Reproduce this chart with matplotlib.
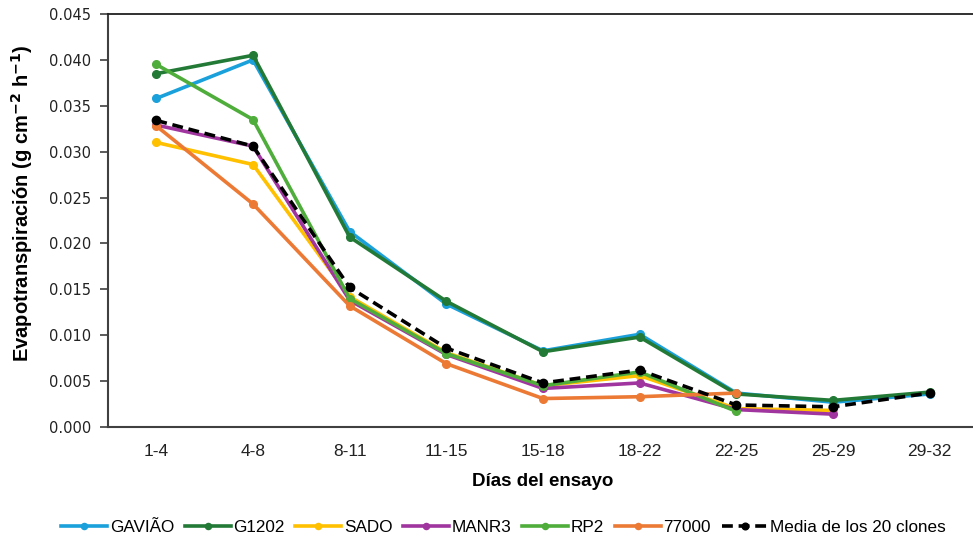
import numpy as np
import matplotlib
matplotlib.use("Agg")
import matplotlib.pyplot as plt

categories = ["1-4", "4-8", "8-11", "11-15", "15-18", "18-22", "22-25", "25-29", "29-32"]
nan = np.nan
gaviao = [0.0358, 0.0400, 0.0213, 0.0134, 0.0083, 0.0101, 0.0037, 0.0027, 0.0036]
g1202  = [0.0385, 0.0405, 0.0207, 0.0137, 0.0082, 0.0098, 0.0036, 0.0029, 0.0038]
sado   = [0.0310, 0.0286, 0.0142, 0.0081, 0.0045, 0.0056, 0.0020, 0.0018, nan]
manr3  = [0.0329, 0.0306, 0.0138, 0.0079, 0.0042, 0.0048, 0.0019, 0.0014, nan]
rp2    = [0.0395, 0.0335, 0.0140, 0.0080, 0.0045, 0.0060, 0.0017, nan, nan]
c77000 = [0.0328, 0.0243, 0.0132, 0.0069, 0.0031, 0.0033, 0.0037, nan, nan]
media  = [0.0334, 0.0306, 0.0152, 0.0086, 0.0048, 0.0062, 0.0024, 0.0022, 0.0037]
yticks = [0.000, 0.005, 0.010, 0.015, 0.020, 0.025, 0.030, 0.035, 0.040, 0.045]

LS = ["Liberation Sans", "DejaVu Sans"]

fig = plt.figure(figsize=(9.73, 5.39), dpi=100)
ax = fig.add_axes([108/973, 1-427/539, (978-108)/973, (427-14)/539])
x = np.arange(len(categories))

series = [
    ("GAVIÃO", gaviao, "#1AA0DB"),
    ("G1202", g1202, "#237A36"),
    ("SADO", sado, "#FFC000"),
    ("MANR3", manr3, "#A0359F"),
    ("RP2", rp2, "#4FAD3B"),
    ("77000", c77000, "#EC7A35"),
]
for name, vals, col in series:
    ax.plot(x, vals, color=col, lw=2.6, marker="o", ms=5.5, label=name)
ax.plot(x, media, color="black", lw=2.6, ls=(0, (3, 1.6)), marker="o", ms=6,
        label="Media de los 20 clones")

ax.set_xlim(-0.5, len(categories) - 0.5)
ax.set_ylim(0, 0.045)
ax.set_yticks(yticks)
ax.set_yticklabels([f"{v:.3f}" for v in yticks], fontsize=10.5, color="#222222")
ax.set_xticks(x)
ax.set_xticklabels(categories, fontsize=12.5, family=LS, color="#222222")
ax.tick_params(axis="x", length=0, pad=12)
ax.tick_params(axis="y", length=6, width=1.2, color="#404040", pad=6)
for s in ["left", "bottom"]:
    ax.spines[s].set_color("#404040")
    ax.spines[s].set_linewidth(1.5)
ax.spines["top"].set_color("#202020")
ax.spines["top"].set_linewidth(1.3)
ax.spines["right"].set_visible(False)

ax.set_xlabel("Días del ensayo", fontsize=13.5, fontweight="bold",
              family=LS, labelpad=10)
fig.text(22/973, 1-203/539,
         r"Evapotranspiración (g cm$^{\mathbf{-2}}$ h$^{\mathbf{-1}}$)",
         rotation=90, ha="center", va="center", fontsize=14.5, fontweight="bold",
         family=LS)

fig.legend(loc="center", bbox_to_anchor=(503.5/973, 1-527/539), ncol=7, frameon=False,
           prop={"family": LS, "size": 12.3},
           handlelength=2.7, handletextpad=0.15, columnspacing=0.62,
           markerscale=0.8)

fig.savefig("out.png", dpi=100)
